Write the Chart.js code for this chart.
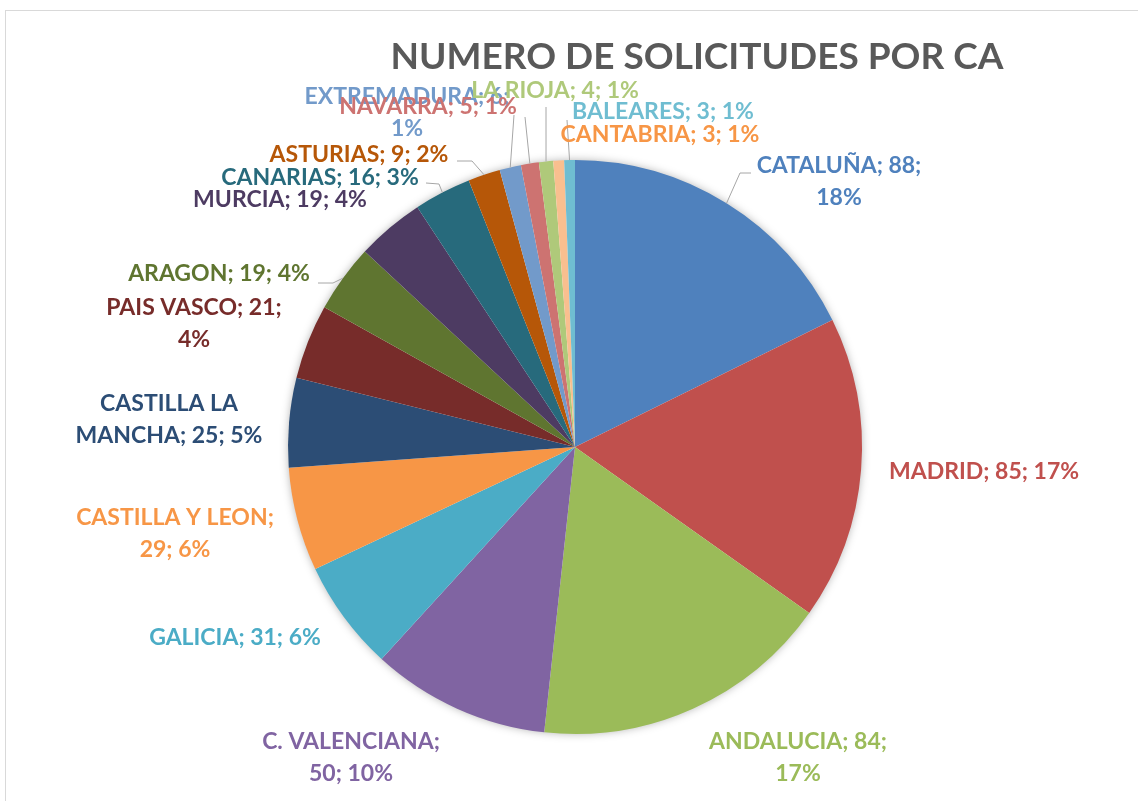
<!DOCTYPE html>
<html lang="es">
<head>
<meta charset="UTF-8">
<title>Numero de solicitudes por CA</title>
<script src="https://cdn.jsdelivr.net/npm/chart.js"></script>
<style>
    html, body { margin: 0; padding: 0; background: #fff; }
    .wrap { position: relative; width: 1138px; height: 801px; overflow: hidden; }
    .frame {
        position: absolute; left: 5px; top: 10px; width: 1200px; height: 900px;
        border-left: 1px solid #d9d9d9; border-top: 1px solid #d9d9d9;
    }
    canvas { position: absolute; left: 0; top: 0; }
</style>
</head>
<body>
<div class="wrap">
    <div class="frame"></div>
    <canvas id="chart" width="1138" height="801"></canvas>
</div>
<script>
// datos
var regiones = ["CATALUÑA", "MADRID", "ANDALUCIA", "C. VALENCIANA", "GALICIA",
    "CASTILLA Y LEON", "CASTILLA LA MANCHA", "PAIS VASCO", "ARAGON", "MURCIA",
    "CANARIAS", "ASTURIAS", "EXTREMADURA", "NAVARRA", "LA RIOJA", "CANTABRIA", "BALEARES"];
var solicitudes = [88, 85, 84, 50, 31, 29, 25, 21, 19, 19, 16, 9, 6, 5, 4, 3, 3];
var titulo = "NUMERO DE SOLICITUDES POR CA";

var colores = ["#4F81BD", "#C0504D", "#9BBB59", "#8064A2", "#4BACC6", "#F79646",
    "#2C4D75", "#772C2A", "#5F7530", "#4D3B62", "#276A7C", "#B65708",
    "#729ACA", "#CD7371", "#AFC97A", "#F9BF8F", "#6FBDD1"];
var coloresEtiqueta = colores.slice();
coloresEtiqueta[15] = "#F79646";

// posicion de etiquetas: centro x, y de la primera linea, palabras en la 1a linea, guia
var etiquetas = [
    { x: 839, y: 166, w: 2, lead: [[751, 173], [740, 173]] },
    { x: 984, y: 472, w: 0 },
    { x: 798, y: 742, w: 2 },
    { x: 351, y: 742, w: 2 },
    { x: 235, y: 638, w: 0 },
    { x: 175, y: 518, w: 3 },
    { x: 169, y: 404, w: 2 },
    { x: 194, y: 308, w: 3 },
    { x: 219, y: 274, w: 0, lead: [[318, 283], [333, 283]] },
    { x: 280, y: 200, w: 0 },
    { x: 320, y: 178, w: 0, lead: [[426, 183], [439, 184]] },
    { x: 359, y: 155, w: 0, lead: [[457, 161], [472, 161]] },
    { x: 407, y: 97, w: 2, lead: [[514, 115]] },
    { x: 428, y: 107, w: 0, lead: [[525, 117]] },
    { x: 555, y: 91, w: 0, lead: [[546, 107]] },
    { x: 660, y: 135, w: 0 },
    { x: 663, y: 112, w: 0, lead: [[567, 120]] }
];

var total = solicitudes.reduce(function (a, b) { return a + b; }, 0);

var sombra = {
    id: 'sombra',
    beforeDatasetsDraw: function (chart) {
        var arc = chart.getDatasetMeta(0).data[0];
        var ctx = chart.ctx;
        ctx.save();
        ctx.shadowColor = 'rgba(0,0,0,0.35)';
        ctx.shadowBlur = 10;
        ctx.fillStyle = '#fff';
        ctx.beginPath();
        ctx.arc(arc.x, arc.y, arc.outerRadius - 1, 0, Math.PI * 2);
        ctx.fill();
        ctx.restore();
    }
};

var rotulos = {
    id: 'rotulos',
    afterDraw: function (chart) {
        var ctx = chart.ctx;
        var meta = chart.getDatasetMeta(0);
        ctx.save();
        // titulo
        ctx.font = 'bold 37px Lato';
        ctx.fillStyle = '#595959';
        ctx.textAlign = 'center';
        ctx.textBaseline = 'middle';
        ctx.fillText(titulo, 697, 57);

        // guias
        ctx.strokeStyle = '#a6a6a6';
        ctx.lineWidth = 1;
        meta.data.forEach(function (arc, i) {
            var e = etiquetas[i];
            if (!e.lead) return;
            var a = (arc.startAngle + arc.endAngle) / 2;
            var px = arc.x + Math.cos(a) * arc.outerRadius;
            var py = arc.y + Math.sin(a) * arc.outerRadius;
            ctx.beginPath();
            ctx.moveTo(e.lead[0][0], e.lead[0][1]);
            for (var k = 1; k < e.lead.length; k++) ctx.lineTo(e.lead[k][0], e.lead[k][1]);
            ctx.lineTo(px, py);
            ctx.stroke();
        });

        // etiquetas
        ctx.font = 'bold 23px Lato';
        regiones.forEach(function (r, i) {
            var e = etiquetas[i];
            var pct = Math.round(solicitudes[i] / total * 100);
            var txt = r + '; ' + solicitudes[i] + '; ' + pct + '%';
            var words = txt.split(' ');
            var lines = e.w ? [words.slice(0, e.w).join(' '), words.slice(e.w).join(' ')] : [txt];
            ctx.fillStyle = coloresEtiqueta[i];
            lines.forEach(function (l, k) {
                ctx.fillText(l, e.x, e.y + k * 32);
            });
        });
        ctx.restore();
    }
};

new Chart(document.getElementById('chart'), {
    type: 'pie',
    data: {
        labels: regiones,
        datasets: [{
            data: solicitudes,
            backgroundColor: colores,
            borderWidth: 0
        }]
    },
    options: {
        responsive: false,
        animation: false,
        layout: { padding: { left: 288, right: 276, top: 160, bottom: 67 } },
        plugins: {
            legend: { display: false },
            tooltip: { enabled: false },
            title: { display: false }
        }
    },
    plugins: [sombra, rotulos]
});
</script>
</body>
</html>
